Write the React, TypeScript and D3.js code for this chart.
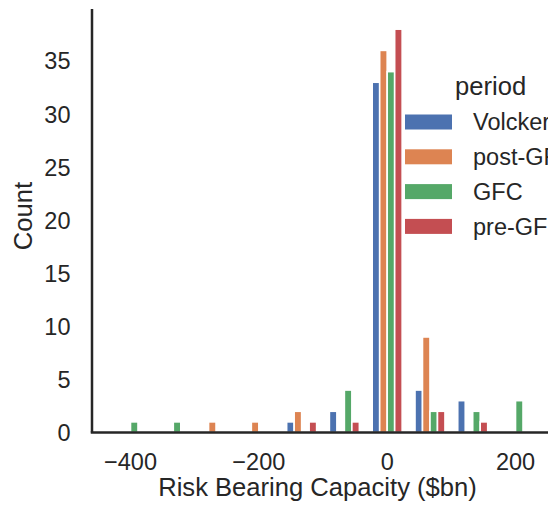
import { useEffect, useRef } from "react";
import * as d3 from "d3";

// histogram bins (centre of each bin, $bn) and the bin width
const binCenters = [-400, -333.3, -266.7, -200, -133.3, -66.7, 0, 66.7, 133.3, 200];
const binWidth = 66.7;

const periods = ["Volcker", "post-GFC", "GFC", "pre-GFC"];
const periodColors = ["#4c72b0", "#dd8452", "#55a868", "#c44e52"];

// counts per bin, one array per period
const volckerCounts = [0, 0, 0, 0, 1, 2, 33, 4, 3, 0];
const postGfcCounts = [0, 0, 1, 1, 2, 0, 36, 9, 0, 0];
const gfcCounts = [1, 1, 0, 0, 0, 4, 34, 2, 2, 3];
const preGfcCounts = [0, 0, 0, 0, 1, 1, 38, 2, 1, 0];

const xTicks = [-400, -200, 0, 200];
const yTicks = [0, 5, 10, 15, 20, 25, 30, 35];

const FONT = "'Liberation Sans', Arial, sans-serif";
const INK = "#262626";
const TICK_SIZE = 23.5;
const LABEL_SIZE = 25.6;

const App = () => {
  const svgRef = useRef<SVGSVGElement>(null);

  useEffect(() => {
    const svg = d3.select(svgRef.current);
    svg.selectAll("*").remove();

    const left = 92;
    const top = 9;
    const bottom = 432.5;

    const xScale = d3.scaleLinear().domain([-460, 265]).range([left, left + 725 * 0.6417]);
    const yScale = d3.scaleLinear().domain([0, 39.9]).range([bottom, top]);

    const seriesList = [volckerCounts, postGfcCounts, gfcCounts, preGfcCounts];
    const bars = binCenters.flatMap((c, i) =>
      periods.map((p, k) => ({ center: c, period: p, count: seriesList[k][i] }))
    );

    const binPx = xScale(binWidth) - xScale(0);
    const hueScale = d3
      .scaleBand()
      .domain(periods)
      .range([-0.35 * binPx, 0.35 * binPx])
      .padding(0);

    const colorScale = d3.scaleOrdinal<string, string>().domain(periods).range(periodColors);

    svg
      .append("g")
      .selectAll("rect")
      .data(bars.filter((d) => d.count > 0))
      .enter()
      .append("rect")
      .attr("x", (d) => xScale(d.center) + (hueScale(d.period) as number))
      .attr("y", (d) => yScale(d.count))
      .attr("width", hueScale.bandwidth())
      .attr("height", (d) => bottom - yScale(d.count))
      .attr("fill", (d) => colorScale(d.period))
      .attr("stroke", "#ffffff")
      .attr("stroke-width", 1.6);

    // spines
    svg
      .append("line")
      .attr("x1", left)
      .attr("x2", left)
      .attr("y1", top)
      .attr("y2", bottom)
      .attr("stroke", INK)
      .attr("stroke-width", 2.5);
    svg
      .append("line")
      .attr("x1", left - 1.25)
      .attr("x2", 560)
      .attr("y1", bottom)
      .attr("y2", bottom)
      .attr("stroke", INK)
      .attr("stroke-width", 2.5);

    svg
      .append("g")
      .selectAll("text")
      .data(yTicks)
      .enter()
      .append("text")
      .attr("x", 70.5)
      .attr("y", (d) => yScale(d))
      .attr("dy", "0.36em")
      .attr("text-anchor", "end")
      .attr("font-size", TICK_SIZE)
      .attr("fill", INK)
      .text((d) => d);

    svg
      .append("g")
      .selectAll("text")
      .data(xTicks)
      .enter()
      .append("text")
      .attr("x", (d) => xScale(d))
      .attr("y", 470)
      .attr("text-anchor", "middle")
      .attr("font-size", TICK_SIZE)
      .attr("fill", INK)
      .text((d) => (d < 0 ? `\u2212${Math.abs(d)}` : `${d}`));

    svg
      .append("text")
      .attr("x", 317.5)
      .attr("y", 496)
      .attr("text-anchor", "middle")
      .attr("font-size", LABEL_SIZE)
      .attr("fill", INK)
      .text("Risk Bearing Capacity ($bn)");

    svg
      .append("text")
      .attr("transform", "translate(31.5,216) rotate(-90)")
      .attr("text-anchor", "middle")
      .attr("font-size", LABEL_SIZE)
      .attr("fill", INK)
      .text("Count");

    // legend
    const legend = svg.append("g").attr("transform", "translate(405,0)");
    legend
      .append("text")
      .attr("x", 50)
      .attr("y", 95)
      .attr("font-size", LABEL_SIZE)
      .attr("fill", INK)
      .text("period");

    const items = legend
      .selectAll(".legend-item")
      .data(periods)
      .enter()
      .append("g")
      .attr("class", "legend-item")
      .attr("transform", (d, i) => `translate(0, ${122 + i * 34.8})`);

    items
      .append("rect")
      .attr("x", 0)
      .attr("y", -7.5)
      .attr("width", 47)
      .attr("height", 15)
      .attr("fill", (d) => colorScale(d));

    items
      .append("text")
      .attr("x", 68)
      .attr("y", 0)
      .attr("dy", "0.36em")
      .attr("font-size", TICK_SIZE)
      .attr("fill", INK)
      .text((d) => d);
  }, []);

  return (
    <svg
      ref={svgRef}
      width={548}
      height={512}
      style={{ position: "absolute", left: 0, top: 0, background: "#ffffff", fontFamily: FONT }}
    ></svg>
  );
};

export default App;
